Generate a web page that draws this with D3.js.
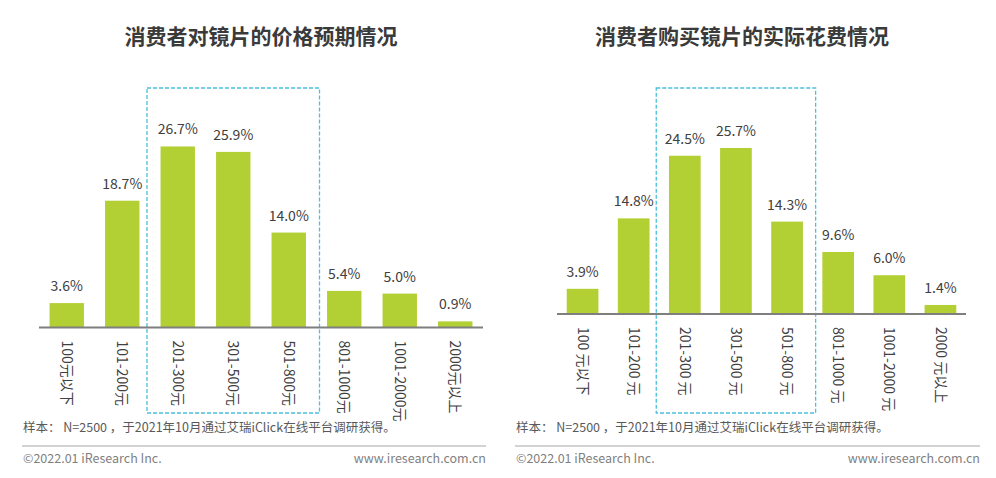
<!DOCTYPE html>
<html><head><meta charset="utf-8">
<script src="https://cdn.jsdelivr.net/npm/d3@7"></script>
<style>
html,body{margin:0;padding:0;background:#fff;}
svg{display:block;font-family:"Noto Sans CJK SC","Noto Sans",sans-serif;}
</style></head>
<body>
<svg id="c" width="996" height="478"></svg>
<script>
const leftTitle = "消费者对镜片的价格预期情况";
const rightTitle = "消费者购买镜片的实际花费情况";
const leftCategories = ["100元以下","101-200元","201-300元","301-500元","501-800元","801-1000元","1001-2000元","2000元以上"];
const leftValues = [3.6, 18.7, 26.7, 25.9, 14.0, 5.4, 5.0, 0.9];
const rightCategories = ["100 元以下","101-200 元","201-300 元","301-500 元","501-800 元","801-1000 元","1001-2000 元","2000 元以上"];
const rightValues = [3.9, 14.8, 24.5, 25.7, 14.3, 9.6, 6.0, 1.4];
const highlighted = ["201-300","301-500","501-800"];
const noteText = "样本： N=2500 ，于2021年10月通过艾瑞iClick在线平台调研获得。";
const copyText = "©2022.01 iResearch Inc.";
const siteText = "www.iresearch.com.cn";

const svg = d3.select("#c");
const barColor = "#b2cf34";
const textColor = "#404040";

function drawChart(cfg) {
  const g = svg.append("g");
  const x = d3.scaleBand().domain(cfg.cats).range([cfg.x0, cfg.x1]).paddingInner(0.38).paddingOuter(0.19);
  const y = d3.scaleLinear().domain([0, 30]).range([cfg.base, cfg.base - 30 * cfg.ppu]);

  g.append("text").attr("x", cfg.titleX).attr("y", 44).attr("text-anchor", "middle")
    .attr("font-size", 21).attr("font-weight", "bold").attr("fill", "#3a3a3a").text(cfg.title);

  // highlight box
  const hi = cfg.cats.filter(c => highlighted.some(h => c.startsWith(h)));
  const bx0 = x(hi[0]) - x.step() * x.paddingInner() / 2 - 3;
  const bx1 = x(hi[hi.length - 1]) + x.bandwidth() + x.step() * x.paddingInner() / 2 + 3;
  g.append("rect").attr("x", bx0).attr("y", 88).attr("width", bx1 - bx0).attr("height", 325)
    .attr("fill", "none").attr("stroke", "#4cc0dc").attr("stroke-width", 1.3).attr("stroke-dasharray", "4,2");

  g.selectAll("rect.bar").data(cfg.vals).join("rect").attr("class", "bar")
    .attr("x", (d, i) => x(cfg.cats[i])).attr("width", x.bandwidth())
    .attr("y", d => y(d)).attr("height", d => y(0) - y(d)).attr("fill", barColor);

  g.selectAll("text.val").data(cfg.vals).join("text").attr("class", "val")
    .attr("x", (d, i) => x(cfg.cats[i]) + x.bandwidth() / 2).attr("y", d => y(d) - 12)
    .attr("text-anchor", "middle").attr("font-size", 14).attr("fill", textColor)
    .text(d => d.toFixed(1) + "%");

  const axis = d3.axisBottom(x).tickSize(0).tickPadding(0);
  const ag = g.append("g").attr("transform", `translate(0,${cfg.base})`).call(axis);
  ag.select(".domain").attr("stroke", "#7f7f7f").attr("stroke-width", 2)
    .attr("d", `M${cfg.x0},0H${cfg.x1}`);
  ag.selectAll(".tick text")
    .attr("transform", "translate(0,13) rotate(90)")
    .attr("x", 0).attr("y", 0).attr("dy", "0.35em")
    .attr("text-anchor", "start").attr("font-size", 14).attr("fill", textColor)
    .attr("font-family", "'Noto Sans CJK SC','Noto Sans',sans-serif");

  // footer
  g.append("text").attr("x", cfg.fx0 + 1).attr("y", 432).attr("font-size", 12.5).attr("fill", "#595959").text(noteText);
  g.append("line").attr("x1", cfg.fx0).attr("x2", cfg.fx1).attr("y1", 446).attr("y2", 446)
    .attr("stroke", "#a6a6a6").attr("stroke-width", 1);
  g.append("text").attr("x", cfg.fx0 + 1).attr("y", 463).attr("font-size", 12.5).attr("fill", "#7f7f7f").text(copyText);
  g.append("text").attr("x", cfg.fx1).attr("y", 463).attr("text-anchor", "end").attr("font-size", 12.5).attr("fill", "#7f7f7f").text(siteText);
}

drawChart({title: leftTitle, titleX: 261, cats: leftCategories, vals: leftValues,
  x0: 39, x1: 483, base: 327.5, ppu: 6.78, fx0: 22, fx1: 486});
drawChart({title: rightTitle, titleX: 742, cats: rightCategories, vals: rightValues,
  x0: 557, x1: 966, base: 314, ppu: 6.46, fx0: 515, fx1: 980});
</script>
</body></html>
